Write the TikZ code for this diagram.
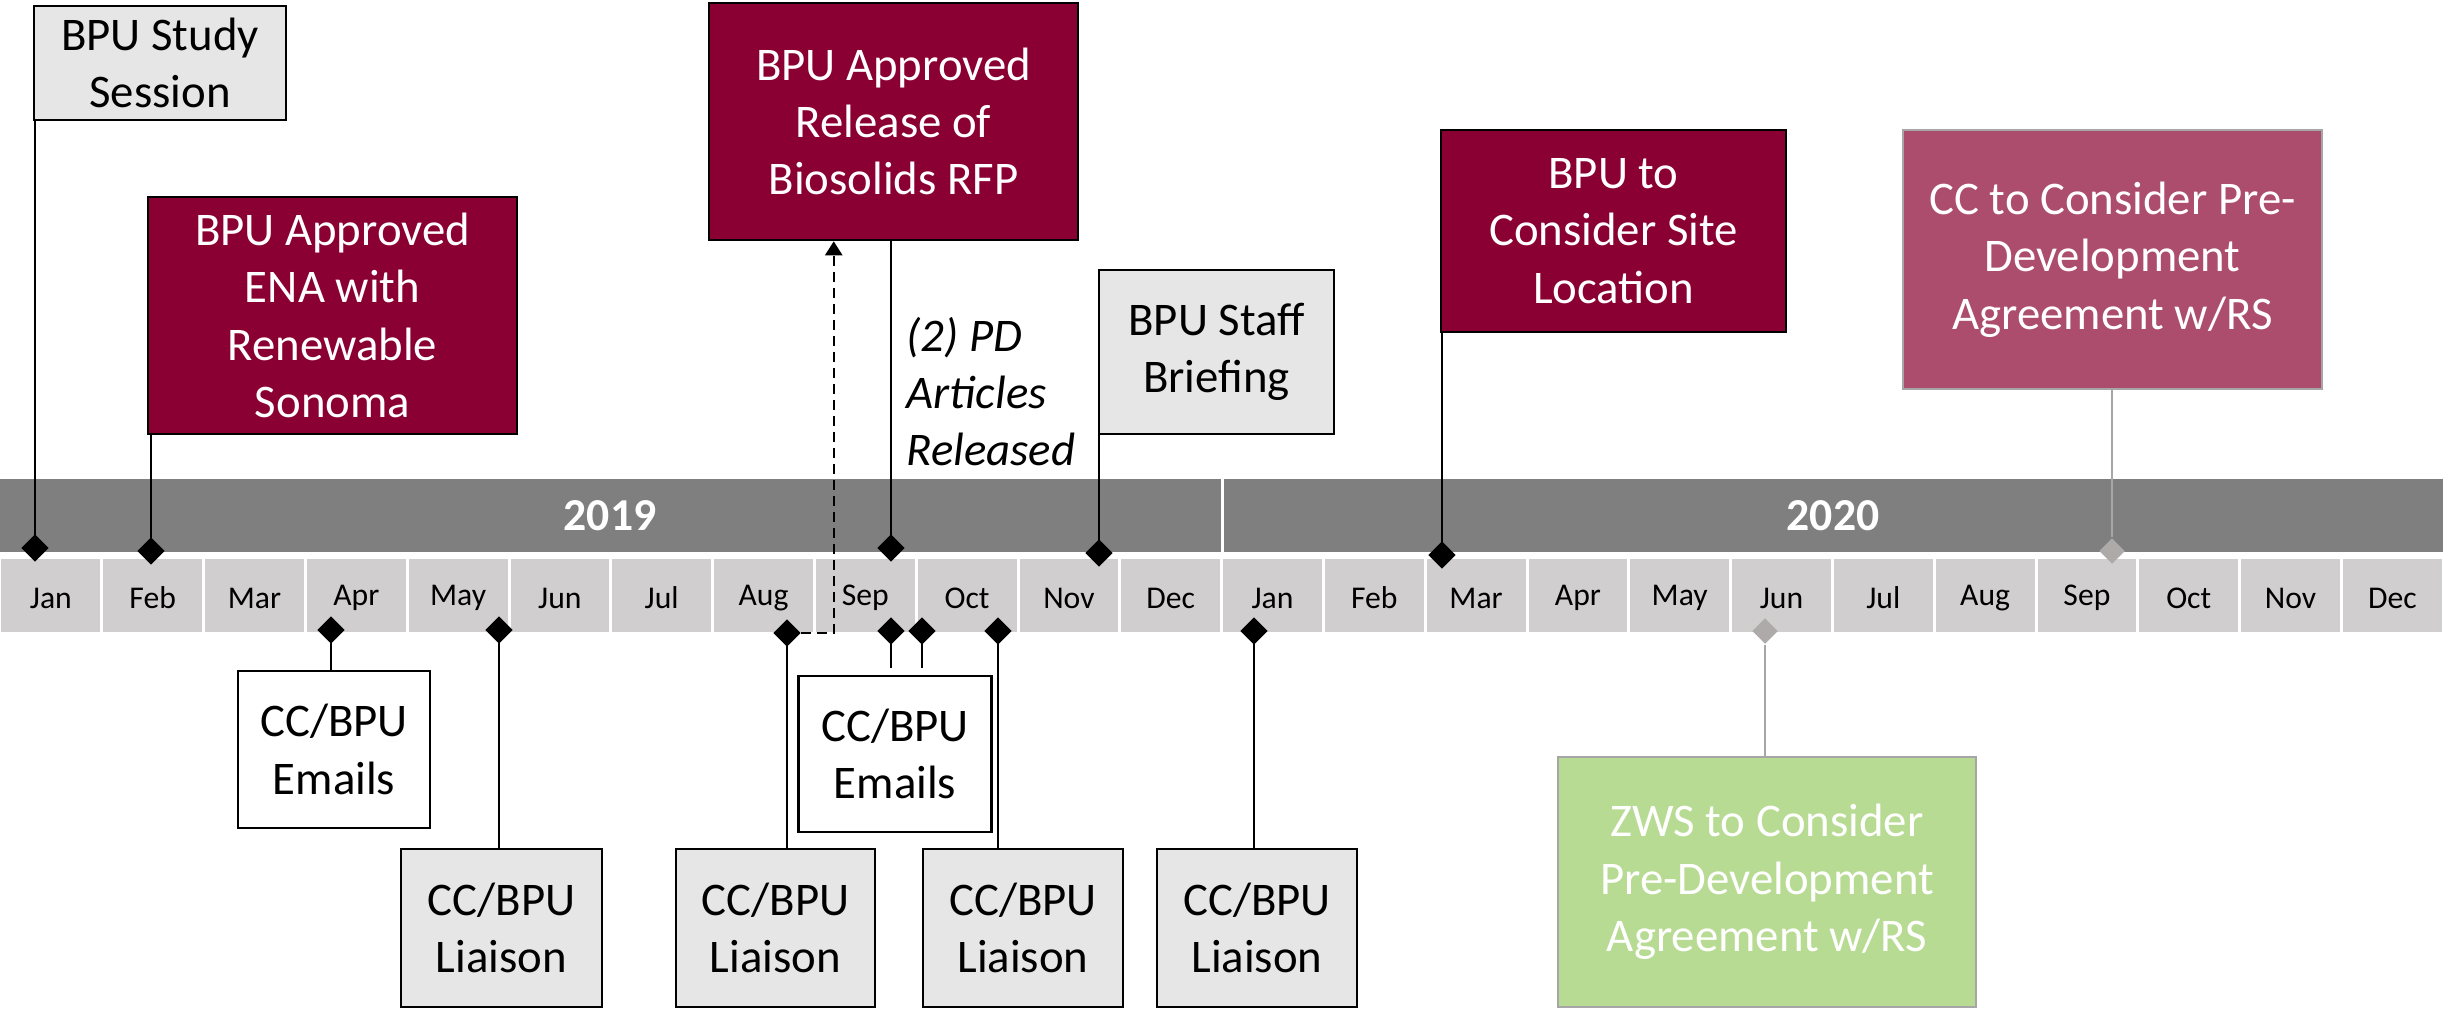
\documentclass[tikz,border=0pt]{standalone}
\usepackage{fontspec}
\setmainfont{Carlito}
\usetikzlibrary{shapes.geometric,arrows.meta}
\definecolor{barDark}{HTML}{7F7F7F}
\definecolor{barLight}{HTML}{D0CECE}
\definecolor{boxGray}{HTML}{E6E6E6}
\definecolor{bpuRed}{HTML}{8B0033}
\definecolor{ccRose}{HTML}{AD4D6E}
\definecolor{zwsGreen}{HTML}{B8DB94}
\definecolor{lineGray}{HTML}{A6A6A6}
\definecolor{markGray}{HTML}{AEAAAA}
\tikzset{every node/.append style={font=\fontsize{13.3}{16.3}\selectfont}}
\tikzset{evbox/.style={rectangle, inner sep=0pt, align=center, line width=0.7pt}}
\tikzset{staffbox/.style={evbox, draw=black, fill=boxGray}}
\tikzset{mailbox/.style={evbox, draw=black, fill=white}}
\tikzset{redbox/.style={evbox, draw=black, fill=bpuRed, text=white}}
\tikzset{rosebox/.style={evbox, draw=lineGray, fill=ccRose, text=white}}
\tikzset{greenbox/.style={evbox, draw=lineGray, fill=zwsGreen, text=white}}
\tikzset{datemark/.style={diamond, minimum size=0.26cm, inner sep=0pt, fill=black}}
\tikzset{graymark/.style={datemark, fill=markGray}}
\tikzset{conn/.style={line width=0.7pt}}
\tikzset{grayconn/.style={line width=0.6pt, lineGray}}
\tikzset{monthlbl/.style={font=\fontsize{9}{11}\selectfont}}
\tikzset{yearlbl/.style={font=\fontsize{13}{15}\selectfont\bfseries, text=white}}

\begin{document}
\begin{tikzpicture}[x=0.01cm, y=-0.01cm]
\useasboundingbox (0,0) rectangle (2443,1009);

% year bar
\fill[barDark] (0,479) rectangle (1220.5,552);
\fill[barDark] (1223.5,479) rectangle (2443,552);
\node[yearlbl] (y19) at (610,516) {2019};
\node[yearlbl] (y20) at (1833,516) {2020};

% months
\foreach \m [count=\i from 0] in {Jan,Feb,Mar,Apr,May,Jun,Jul,Aug,Sep,Oct,Nov,Dec,Jan,Feb,Mar,Apr,May,Jun,Jul,Aug,Sep,Oct,Nov,Dec}
{
  \fill[barLight] ({\i*101.8+1.5},559) rectangle ({(\i+1)*101.8-1.5},632);
  \node[monthlbl] (m\i) at ({(\i+0.5)*101.8},598) {\m};
}

% events above the bar
\node[staffbox, minimum width=2.52cm, minimum height=1.14cm] (study) at (160,63) {BPU Study\\Session};
\node[redbox, minimum width=3.69cm, minimum height=2.37cm] (ena) at (332.5,315.5) {BPU Approved\\ENA with\\Renewable\\Sonoma};
\node[redbox, minimum width=3.69cm, minimum height=2.37cm] (rfp) at (893.5,121.5) {BPU Approved\\Release of\\Biosolids RFP};
\node[anchor=west, align=left, inner sep=0pt, font=\fontsize{13.3}{16.2}\selectfont\itshape] (pd) at (906,392) {(2) PD\\Articles\\Released};
\node[staffbox, minimum width=2.35cm, minimum height=1.64cm] (staff) at (1216.5,352) {BPU Staff\\Briefing};
\node[redbox, minimum width=3.45cm, minimum height=2.02cm] (site) at (1613.5,231) {BPU to\\Consider Site\\Location};
\node[rosebox, minimum width=4.19cm, minimum height=2.59cm] (ccpda) at (2112.5,259.5) {CC to Consider Pre-\\Development\\Agreement w/RS};

% events below the bar
\node[mailbox, minimum width=1.92cm, minimum height=1.57cm] (mailA) at (334,749.5) {CC/BPU\\Emails};
\node[staffbox, minimum width=2.01cm, minimum height=1.58cm] (liaA) at (501.5,928) {CC/BPU\\Liaison};
\node[staffbox, minimum width=1.99cm, minimum height=1.58cm] (liaB) at (775.5,928) {CC/BPU\\Liaison};
\node[mailbox, minimum width=1.93cm, minimum height=1.56cm] (mailB) at (895,754) {CC/BPU\\Emails};
\node[staffbox, minimum width=2.0cm, minimum height=1.58cm] (liaC) at (1023,928) {CC/BPU\\Liaison};
\node[staffbox, minimum width=2.0cm, minimum height=1.58cm] (liaD) at (1257,928) {CC/BPU\\Liaison};
\node[greenbox, minimum width=4.18cm, minimum height=2.5cm] (zws) at (1767,882) {ZWS to Consider\\Pre-Development\\Agreement w/RS};

% markers on the bar
\node[datemark] (dStudy) at (35,548) {};
\node[datemark] (dEna) at (151,551) {};
\node[datemark] (dRfp) at (891,548) {};
\node[datemark] (dStaff) at (1099,553) {};
\node[datemark] (dSite) at (1442,555) {};
\node[graymark] (dCc) at (2112,551) {};
\node[datemark] (dMailA) at (331,630) {};
\node[datemark] (dLiaA) at (499,630) {};
\node[datemark] (dLiaB) at (787,633) {};
\node[datemark] (dMailB1) at (891,631) {};
\node[datemark] (dMailB2) at (922,631) {};
\node[datemark] (dLiaC) at (998,631) {};
\node[datemark] (dLiaD) at (1254,631) {};
\node[graymark] (dZws) at (1765,631) {};

\draw[conn] (dStudy.center) -- (dStudy |- study.south);
\draw[conn] (dEna.center) -- (dEna |- ena.south);
\draw[conn] (dRfp.center) -- (dRfp |- rfp.south);
\draw[conn] (dStaff.center) -- (dStaff |- staff.south);
\draw[conn] (dSite.center) -- (dSite |- site.south);
\draw[grayconn] (dCc.north) -- (dCc |- ccpda.south);
\draw[conn] (dMailA.center) -- (dMailA |- mailA.north);
\draw[conn] (dLiaA.center) -- (dLiaA |- liaA.north);
\draw[conn] (dLiaB.center) -- (dLiaB |- liaB.north);
\draw[conn, shorten >=0.07cm] (dMailB1.center) -- (dMailB1 |- mailB.north);
\draw[conn, shorten >=0.07cm] (dMailB2.center) -- (dMailB2 |- mailB.north);
\draw[conn] (dLiaC.center) -- (dLiaC |- liaC.north);
\draw[conn] (dLiaD.center) -- (dLiaD |- liaD.north);
\draw[grayconn] (dZws.south) -- (dZws |- zws.north);

% RFP follow-up
\draw[conn, dash pattern=on 0.1cm off 0.06cm, -{Triangle[width=0.17cm,length=0.14cm]}]
  (dLiaB.east) -| ([xshift=1.26cm]rfp.south west);

% redraw markers over connectors
\foreach \d in {dStudy,dEna,dRfp,dStaff,dSite,dMailA,dLiaA,dLiaB,dMailB1,dMailB2,dLiaC,dLiaD}
  \fill (\d.north) -- (\d.east) -- (\d.south) -- (\d.west) -- cycle;
\end{tikzpicture}
\end{document}
